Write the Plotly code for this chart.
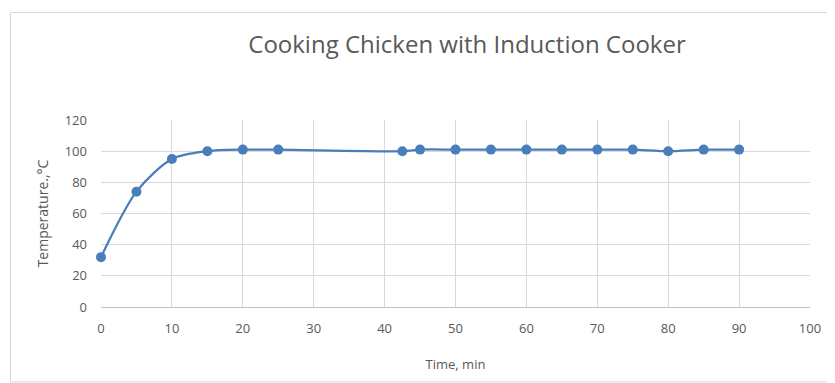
import plotly.graph_objects as go

time_min = [0, 5, 10, 15, 20, 25, 42.5, 45, 50, 55, 60, 65, 70, 75, 80, 85, 90]
temperature_c = [32, 74, 95, 100, 101, 101, 100, 101, 101, 101, 101, 101, 101, 101, 100, 101, 101]
x_ticks = [0, 10, 20, 30, 40, 50, 60, 70, 80, 90, 100]
y_ticks = [0, 20, 40, 60, 80, 100, 120]

W, H = 835, 383
OFF = 8  # page body margin
ml, mr, mt, mb = 93, 33, 112, 84
pw = W - ml - mr
ph = H - mt - mb

def px_to_paper_x(px):
    return (px - OFF - ml) / pw

def px_to_paper_y(py):
    return (H - mb - (py - OFF)) / ph

blue = "#4a7ebb"
grey = "#595959"
fig = go.Figure()
fig.add_trace(go.Scatter(
    x=time_min, y=temperature_c, mode="lines+markers",
    line=dict(color=blue, width=2.25, shape="spline", smoothing=0.8),
    marker=dict(color=blue, size=10),
    showlegend=False, cliponaxis=False,
))

fig.update_layout(
    width=W, height=H,
    margin=dict(l=ml, r=mr, t=mt, b=mb),
    paper_bgcolor="white", plot_bgcolor="white",
    font=dict(family="Open Sans", color=grey, size=13),
    title=dict(text="Cooking Chicken with Induction Cooker",
               x=px_to_paper_x(467), xref="paper", xanchor="center",
               y=1 - (45 - OFF) / H, yanchor="middle",
               font=dict(family="Open Sans", size=24, color=grey)),
    xaxis=dict(range=[0, 100], tickvals=x_ticks, showgrid=True, gridcolor="#d9d9d9",
               gridwidth=1, zeroline=False, showline=True, linecolor="#bfbfbf",
               ticks="", ticklabelstandoff=9, tickfont=dict(size=13, color=grey),
               title=dict(text="Time, min", font=dict(size=13, color=grey), standoff=24)),
    yaxis=dict(range=[0, 120], tickvals=y_ticks, showgrid=True, gridcolor="#d9d9d9",
               gridwidth=1, zeroline=False, showline=False,
               ticks="", ticklabelstandoff=13, tickfont=dict(size=13, color=grey),
               title=dict(text="Temperature.,°C", font=dict(size=14, color=grey), standoff=12)),
    shapes=[dict(type="rect", xref="paper", yref="paper",
                 x0=px_to_paper_x(10.5), x1=px_to_paper_x(850),
                 y0=px_to_paper_y(382), y1=px_to_paper_y(12.5),
                 line=dict(color="#d9d9d9", width=1), fillcolor="rgba(0,0,0,0)",
                 layer="below")],
)

fig.write_html("out.html")
